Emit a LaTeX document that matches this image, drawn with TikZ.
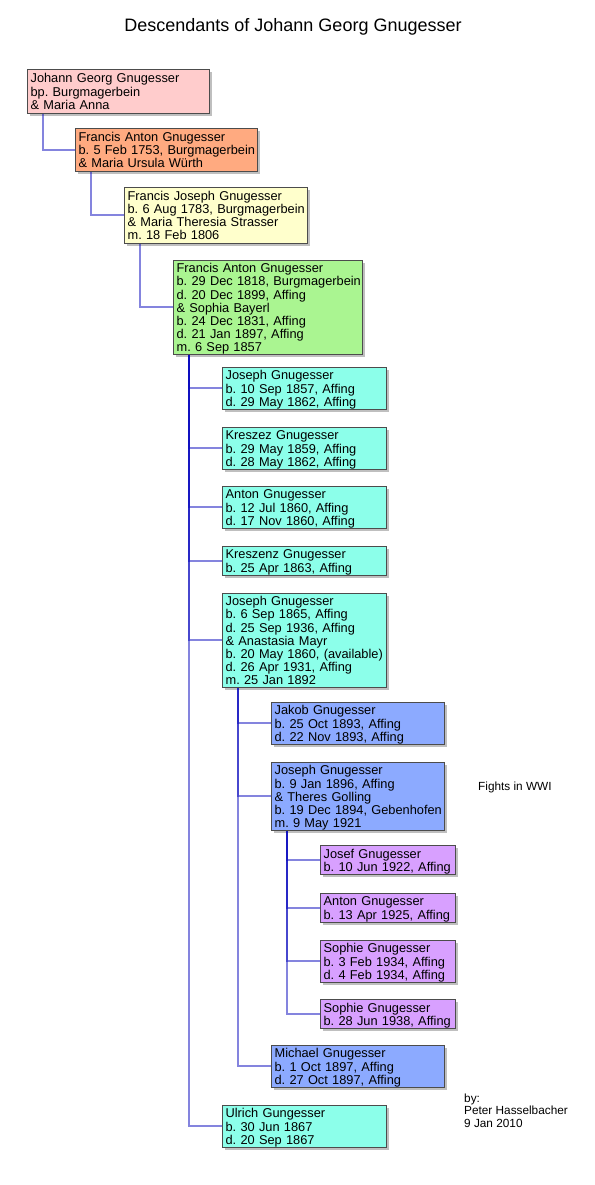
\documentclass[tikz,border=0pt]{standalone}
\usepackage{fontspec}
\setmainfont{Liberation Sans}
\usepackage{xcolor}
\usetikzlibrary{shadows}

\definecolor{cpink}{RGB}{255,204,204}
\definecolor{corange}{RGB}{255,170,128}
\definecolor{cyellow}{RGB}{255,255,204}
\definecolor{cgreen}{RGB}{170,245,145}
\definecolor{ccyan}{RGB}{140,255,234}
\definecolor{cblue}{RGB}{140,170,255}
\definecolor{cpurple}{RGB}{216,160,255}
\definecolor{linkblue}{RGB}{10,10,190}

\newcommand\boxfont{\fontsize{12.8}{13}\selectfont\frenchspacing}
% one line per entry, never broken
\newcommand\plines[1]{\raisebox{-2pt}[\height][\depth]{\begin{tabular}{@{}l@{}}#1\end{tabular}}}

\tikzset{
  pbox/.style={draw=black!70, line width=0.8pt, anchor=north west,
    inner xsep=3.2pt, inner ysep=1pt, font=\boxfont,
    drop shadow={shadow xshift=2.5pt, shadow yshift=-2.5pt, opacity=0.5}},
  g0/.style={pbox, fill=cpink, text width=175.6pt},
  g1/.style={pbox, fill=corange, text width=175.6pt},
  g2/.style={pbox, fill=cyellow, text width=176.6pt},
  g3/.style={pbox, fill=cgreen, text width=182.6pt},
  g4/.style={pbox, fill=ccyan, text width=157.6pt},
  g5/.style={pbox, fill=cblue, text width=166.6pt},
  g6/.style={pbox, fill=cpurple, text width=128.6pt},
  link/.style={draw=linkblue, line width=2pt, opacity=0.5},
  note/.style={align=left, inner sep=0pt, font=\fontsize{11.8}{12.2}\selectfont}
}

\begin{document}
\begin{tikzpicture}[x=1pt,y=-1pt]
  \useasboundingbox (0,0) rectangle (594,1185);
  \node[anchor=base, font=\fontsize{18}{20}\selectfont] (title) at (293,32)
    {Descendants of Johann Georg Gnugesser};

  % ancestors
  \node[g0, minimum height=44] (johann) at (27,69)
    {\plines{Johann Georg Gnugesser\\bp. Burgmagerbein\\\& Maria Anna}};
  \node[g1, minimum height=43] (franzA) at (75,128)
    {\plines{Francis Anton Gnugesser\\b. 5 Feb 1753, Burgmagerbein\\\& Maria Ursula Würth}};
  \node[g2, minimum height=56] (franzJ) at (124,187)
    {\plines{Francis Joseph Gnugesser\\b. 6 Aug 1783, Burgmagerbein\\\& Maria Theresia Strasser\\m. 18 Feb 1806}};
  \node[g3, minimum height=93] (franzB) at (173,260)
    {\plines{Francis Anton Gnugesser\\b. 29 Dec 1818, Burgmagerbein\\d. 20 Dec 1899, Affing\\\& Sophia Bayerl\\b. 24 Dec 1831, Affing\\d. 21 Jan 1897, Affing\\m. 6 Sep 1857}};

  % children of Francis Anton
  \node[g4, minimum height=42] (josephA) at (222,367)
    {\plines{Joseph Gnugesser\\b. 10 Sep 1857, Affing\\d. 29 May 1862, Affing}};
  \node[g4, minimum height=42] (kreszez) at (222,427)
    {\plines{Kreszez Gnugesser\\b. 29 May 1859, Affing\\d. 28 May 1862, Affing}};
  \node[g4, minimum height=42] (antonA) at (222,486)
    {\plines{Anton Gnugesser\\b. 12 Jul 1860, Affing\\d. 17 Nov 1860, Affing}};
  \node[g4, minimum height=29] (kreszenz) at (222,546)
    {\plines{Kreszenz Gnugesser\\b. 25 Apr 1863, Affing}};
  \node[g4, minimum height=94] (josephB) at (222,593)
    {\plines{Joseph Gnugesser\\b. 6 Sep 1865, Affing\\d. 25 Sep 1936, Affing\\\& Anastasia Mayr\\b. 20 May 1860, (available)\\d. 26 Apr 1931, Affing\\m. 25 Jan 1892}};
  \node[g4, minimum height=42] (ulrich) at (222,1105)
    {\plines{Ulrich Gungesser\\b. 30 Jun 1867\\d. 20 Sep 1867}};

  % children of Joseph
  \node[g5, minimum height=42] (jakob) at (271,702)
    {\plines{Jakob Gnugesser\\b. 25 Oct 1893, Affing\\d. 22 Nov 1893, Affing}};
  \node[g5, minimum height=68] (josephC) at (271,762)
    {\plines{Joseph Gnugesser\\b. 9 Jan 1896, Affing\\\& Theres Golling\\b. 19 Dec 1894, Gebenhofen\\m. 9 May 1921}};
  \node[g5, minimum height=42] (michael) at (271,1045)
    {\plines{Michael Gnugesser\\b. 1 Oct 1897, Affing\\d. 27 Oct 1897, Affing}};

  % grandchildren
  \node[g6, minimum height=29] (josef) at (320,845)
    {\plines{Josef Gnugesser\\b. 10 Jun 1922, Affing}};
  \node[g6, minimum height=29] (antonB) at (320,893)
    {\plines{Anton Gnugesser\\b. 13 Apr 1925, Affing}};
  \node[g6, minimum height=42] (sophieA) at (320,940)
    {\plines{Sophie Gnugesser\\b. 3 Feb 1934, Affing\\d. 4 Feb 1934, Affing}};
  \node[g6, minimum height=29] (sophieB) at (320,999)
    {\plines{Sophie Gnugesser\\b. 28 Jun 1938, Affing}};

  \node[note, anchor=base west] (wwi) at (478,790) {Fights in WWI};
  \node[note, anchor=base west] (byline) at (464,1127) {by:\\Peter Hasselbacher\\9 Jan 2010};

  % links, drawn one by one so the shared trunks get darker
  \foreach \p/\c in {johann/franzA, franzA/franzJ, franzJ/franzB,
      franzB/josephA, franzB/kreszez, franzB/antonA, franzB/kreszenz,
      franzB/josephB, franzB/ulrich,
      josephB/jakob, josephB/josephC, josephB/michael,
      josephC/josef, josephC/antonB, josephC/sophieA, josephC/sophieB}
    \draw[link] ([xshift=16pt]\p.south west) |- (\c.west);
\end{tikzpicture}
\end{document}
